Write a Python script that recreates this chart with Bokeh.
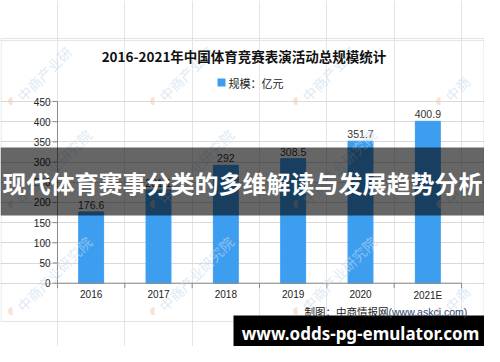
from bokeh.plotting import figure
from bokeh.models import Range1d, FixedTicker, BoxAnnotation, Label, Grid
from bokeh.core.properties import value
from bokeh.embed import file_html
from bokeh.resources import INLINE

# ---- data ----
years = ["2016", "2017", "2018", "2019", "2020", "2021E"]
scale_values = [176.6, 231.1, 292.0, 308.5, 351.7, 400.9]
value_labels = ["176.6", "231.1", "292", "308.5", "351.7", "400.9"]
y_ticks = [0, 50, 100, 150, 200, 250, 300, 350, 400, 450]
y_tick_labels = [str(t) for t in y_ticks]

chart_title = "2016-2021年中国体育竞赛表演活动总规模统计"
legend_text = "规模：亿元"
source_cn = "制图：中商情报网"
source_en = "(www.askci.com)"
banner_text = "现代体育赛事分类的多维解读与发展趋势分析"
footer_text = "www.odds-pg-emulator.com"
watermark_text = "中商产业研究院"

# ---- layout (reference pixel coords -> canvas) ----
W, H = 484, 346
M = 0
PL, PR, PT, PB = 57.0, 461.0, 101.0, 282.7   # plot area in reference pixels
NCAT = len(years)
YMAX = y_ticks[-1]

ux = NCAT / (PR - PL)          # data units per pixel (x)
uy = YMAX / (PB - PT)          # data units per pixel (y)
x_start = -(PL - M) * ux
x_end = NCAT + (W - (PR - M)) * ux
y_start = -(H - (PB - M)) * uy
y_end = YMAX + (PT - M) * uy


def sx(rx):
    return rx - M


def sy(ry):
    return H - (ry - M)


BAR = "#3d9ef0"
AXIS = "#8a8a8a"
TXT = "#222222"

p = figure(width=W, height=H, output_backend="svg", toolbar_location=None, tools="",
           x_range=Range1d(x_start, x_end), y_range=Range1d(y_start, y_end),
           x_axis_location=None, y_axis_location=None, title=None,
           min_border=0, min_border_left=0, min_border_right=0,
           min_border_top=0, min_border_bottom=0)
p.outline_line_color = None
p.background_fill_color = "white"
p.border_fill_color = "white"

# gridlines
p.add_layout(Grid(dimension=1, ticker=FixedTicker(ticks=y_ticks), bounds=(0, NCAT),
                  grid_line_color="#d9d9d9"))

xs = [i + 0.5 for i in range(NCAT)]
bounds_x = list(range(NCAT + 1))
p.vbar(x=xs, top=scale_values, width=0.37, color=BAR)
p.text(x=xs, y=scale_values, text=value_labels, text_align="center",
       text_baseline="bottom", y_offset=-3, text_font_size="10.5px",
       text_color="#333333", text_font=value("Liberation Sans"))

# axes drawn from the tick arrays
TICK = 5
p.segment(x0=[0], y0=[0], x1=[0], y1=[YMAX], line_color=AXIS, line_width=1)
p.segment(x0=[0] * len(y_ticks), y0=y_ticks, x1=[-TICK * ux] * len(y_ticks), y1=y_ticks,
          line_color=AXIS, line_width=1)
p.text(x=[0] * len(y_ticks), y=y_ticks, text=y_tick_labels, x_offset=-7,
       text_align="right", text_baseline="middle", text_font_size="10px",
       text_color=TXT, text_font=value("Liberation Sans"))
p.segment(x0=[0], y0=[0], x1=[NCAT], y1=[0], line_color=AXIS, line_width=1)
p.segment(x0=bounds_x, y0=[0] * len(bounds_x), x1=bounds_x, y1=[-TICK * uy] * len(bounds_x),
          line_color=AXIS, line_width=1)
p.text(x=xs, y=[0] * NCAT, text=years, y_offset=7, text_align="center",
       text_baseline="top", text_font_size="10px", text_color=TXT,
       text_font=value("Liberation Sans"))


def box(l, r, t, b, **kw):
    bx = BoxAnnotation(left=l, right=r, top=t, bottom=b,
                       left_units="screen", right_units="screen",
                       top_units="screen", bottom_units="screen", **kw)
    p.add_layout(bx)
    return bx


def label(rx, ry, text, **kw):
    lb = Label(x=sx(rx), y=sy(ry), x_units="screen", y_units="screen", text=text, **kw)
    p.add_layout(lb)
    return lb


# watermarks
wm_cols = [10, 152, 295, 438]
wm_rows = [100, 203, 310]
for ci, rx in enumerate(wm_cols):
    for ri, ry in enumerate(wm_rows):
        n = 7
        if ri == 0:
            n = 5
        if ci == len(wm_cols) - 1:
            n = min(n, 2)
        label(rx, ry, "◖", text_font_size="11px", text_color="#f0c9b4", text_alpha=0.55,
              text_align="center", text_baseline="middle", text_font="DejaVu Sans")
        label(rx + 9, ry - 2, watermark_text[:n], angle=45, angle_units="deg",
              text_font_size="14px", text_color="#c6dbee", text_alpha=0.6,
              text_align="left", text_baseline="middle", text_font="Noto Sans CJK SC")

# chart frame
box(0.5, W - 0.5, sy(38), sy(321), fill_color=None, line_color="#a6a6a6", line_width=1)

label(243.5, 55, chart_title, text_align="center", text_baseline="middle",
      text_font_size="13.5px", text_font_style="bold", text_color="#111111",
      text_font="Noto Sans CJK SC")

box(sx(217), sx(225), sy(78), sy(86), fill_color=BAR, fill_alpha=1, line_color=None)
label(228, 82, legend_text, text_align="left", text_baseline="middle",
      text_font_size="11px", text_color=TXT, text_font="Noto Sans CJK SC")

# banner
box(0, W, sy(147), sy(215), fill_color="black", fill_alpha=0.6, line_color=None)
label(W / 2, 181.5, banner_text, text_align="center", text_baseline="middle",
      text_font_size="24px", text_font_style="bold", text_color="white",
      text_font="Noto Sans CJK SC")

# footer box
box(sx(233), W, sy(315), 0, fill_color="black", fill_alpha=1, line_color=None)
label(360, 332.5, footer_text, text_align="center", text_baseline="middle",
      text_font_size="17px", text_font_style="bold", text_color="white",
      text_font="Noto Sans")

# source
label(388, 311, source_cn, text_align="right", text_baseline="middle",
      text_font_size="10.5px", text_color=TXT, text_font="Noto Sans CJK SC")
label(388, 311, source_en, text_align="left", text_baseline="middle",
      text_font_size="10.5px", text_color="#2f4670", text_font="Liberation Sans")

open("out.html", "w").write(file_html(p, INLINE))
